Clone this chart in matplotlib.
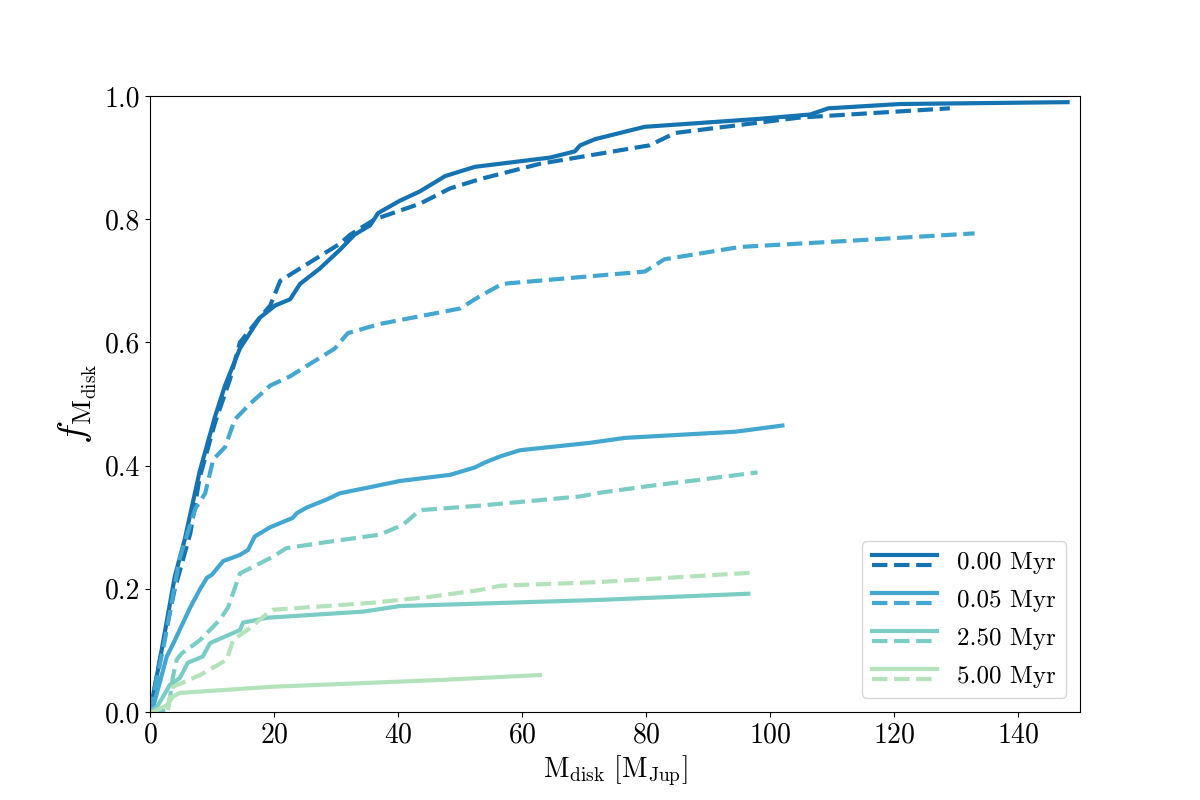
import matplotlib
matplotlib.use("Agg")
import matplotlib.pyplot as plt
from matplotlib.legend_handler import HandlerBase
from matplotlib.lines import Line2D

plt.rcParams['font.family'] = 'serif'
plt.rcParams['font.serif'] = ['cmr10', 'DejaVu Serif']
plt.rcParams['mathtext.fontset'] = 'cm'
plt.rcParams['axes.formatter.use_mathtext'] = True

labels = ['0.00 Myr', '0.05 Myr', '2.50 Myr', '5.00 Myr']
colors = ['#1673b2', '#43a7cf', '#7accc4', '#b4e2ba']

# solid curves
s0_x = [0, 1.6, 4, 5.6, 8, 10.5, 12.1, 14.5, 17.7, 20.2, 22.6, 24.2, 27.4, 30.6, 33, 35.5, 36.8, 40.3, 43.5, 46.8, 47.6, 52.4, 64.5, 68.5, 69.4, 71.8, 79.8, 98.4, 106.5, 109.4, 121, 148]
s0_y = [0, 0.085, 0.22, 0.28, 0.39, 0.48, 0.53, 0.59, 0.64, 0.66, 0.67, 0.695, 0.72, 0.75, 0.775, 0.79, 0.81, 0.83, 0.845, 0.865, 0.87, 0.885, 0.9, 0.91, 0.92, 0.93, 0.95, 0.963, 0.97, 0.98, 0.987, 0.99]
s1_x = [0, 0.5, 2.7, 3.7, 6.5, 8.1, 9.2, 10, 11.8, 14.5, 15.8, 16.9, 19.4, 23, 23.7, 25.3, 28.5, 30.6, 35.5, 40.3, 48.4, 52.4, 54, 56.5, 59.7, 71, 76.6, 94.4, 102]
s1_y = [0, 0.008, 0.09, 0.11, 0.17, 0.2, 0.218, 0.223, 0.245, 0.255, 0.263, 0.285, 0.30, 0.315, 0.323, 0.332, 0.345, 0.355, 0.365, 0.375, 0.385, 0.397, 0.405, 0.415, 0.425, 0.437, 0.445, 0.455, 0.465]
s2_x = [0, 1.1, 2.4, 3.2, 4.8, 6.1, 8.5, 9.7, 14.5, 15, 18.9, 34.4, 40.3, 46.8, 72.6, 96.5]
s2_y = [0, 0.008, 0.03, 0.044, 0.055, 0.08, 0.09, 0.112, 0.133, 0.145, 0.153, 0.163, 0.172, 0.174, 0.182, 0.192]
s3_x = [0, 0.5, 2.7, 3.7, 4.8, 19.8, 46.8, 62.9]
s3_y = [0, 0, 0.011, 0.025, 0.031, 0.041, 0.052, 0.06]

# dashed curves
d0_x = [0, 1.6, 4, 6.5, 8, 10.5, 12.9, 14.5, 16.1, 17.7, 19.4, 21, 24.2, 30.6, 32.3, 36.3, 43.5, 48.4, 53.2, 62.9, 80.6, 84.7, 104.8, 129]
d0_y = [0, 0.085, 0.2, 0.29, 0.38, 0.47, 0.54, 0.6, 0.62, 0.64, 0.66, 0.70, 0.72, 0.76, 0.775, 0.80, 0.825, 0.85, 0.865, 0.89, 0.92, 0.94, 0.965, 0.98]
d1_x = [0, 2.4, 4.8, 7.3, 8.9, 10.2, 12.1, 13.7, 16.1, 19.4, 22.6, 29.8, 31.9, 37.1, 50, 53.2, 56.8, 79.8, 83, 95.2, 112.9, 133]
d1_y = [0, 0.117, 0.25, 0.33, 0.355, 0.41, 0.43, 0.475, 0.50, 0.53, 0.545, 0.59, 0.615, 0.63, 0.655, 0.675, 0.695, 0.715, 0.735, 0.755, 0.765, 0.777]
d2_x = [0, 2.9, 3.7, 4.3, 5.1, 8.1, 11.3, 12.6, 14.5, 16.1, 19.8, 22, 27.9, 37.1, 40.8, 43, 44, 53.2, 69.4, 72.6, 80.6, 88.7, 98]
d2_y = [0, 0.003, 0.057, 0.085, 0.095, 0.117, 0.15, 0.17, 0.225, 0.233, 0.252, 0.266, 0.275, 0.288, 0.304, 0.323, 0.328, 0.335, 0.35, 0.356, 0.367, 0.377, 0.389]
d3_x = [2.9, 3.2, 3.7, 8.1, 12.4, 13.4, 16.1, 18.9, 19.8, 35.5, 45.2, 53.2, 56.5, 72.6, 96.8]
d3_y = [0.003, 0.024, 0.041, 0.06, 0.085, 0.117, 0.136, 0.16, 0.166, 0.177, 0.187, 0.198, 0.205, 0.211, 0.226]

solids = [(s0_x, s0_y), (s1_x, s1_y), (s2_x, s2_y), (s3_x, s3_y)]
dashes = [(d0_x, d0_y), (d1_x, d1_y), (d2_x, d2_y), (d3_x, d3_y)]


class SolidDashedHandler(HandlerBase):
    def create_artists(self, legend, orig_handle, xdescent, ydescent,
                       width, height, fontsize, trans):
        solid, dashed = orig_handle
        l1 = Line2D([0, width], [0.8 * height, 0.8 * height],
                    color=solid.get_color(), lw=solid.get_linewidth(), linestyle='-')
        l2 = Line2D([0, width], [0.2 * height, 0.2 * height],
                    color=dashed.get_color(), lw=dashed.get_linewidth(), linestyle='--')
        l1.set_transform(trans)
        l2.set_transform(trans)
        return [l1, l2]


fig, ax = plt.subplots(figsize=(12, 8), dpi=100)
fig.subplots_adjust(left=0.125, right=0.9, bottom=0.11, top=0.88)

handles = []
for (sx, sy), (dx, dy), c in zip(solids, dashes, colors):
    ls, = ax.plot(sx, sy, color=c, lw=3, linestyle='-')
    ld, = ax.plot(dx, dy, color=c, lw=3, linestyle='--')
    handles.append((ls, ld))

ax.set_xlim(0, 150)
ax.set_ylim(0, 1)
ax.set_xticks([0, 20, 40, 60, 80, 100, 120, 140])
ax.set_yticks([0, 0.2, 0.4, 0.6, 0.8, 1.0])
ax.set_yticklabels(['0.0', '0.2', '0.4', '0.6', '0.8', '1.0'])
ax.tick_params(labelsize=20)
ax.set_xlabel(r'$\rm M_{disk}\ [M_{Jup}]$', fontsize=20)
ax.set_ylabel(r'$f_{\rm M_{disk}}$', fontsize=28)

ax.legend(handles, labels, handler_map={tuple: SolidDashedHandler()},
          loc='lower right', fontsize=18, handlelength=2.6, labelspacing=0.62,
          borderaxespad=0.58)

fig.savefig('out.png', dpi=100)
